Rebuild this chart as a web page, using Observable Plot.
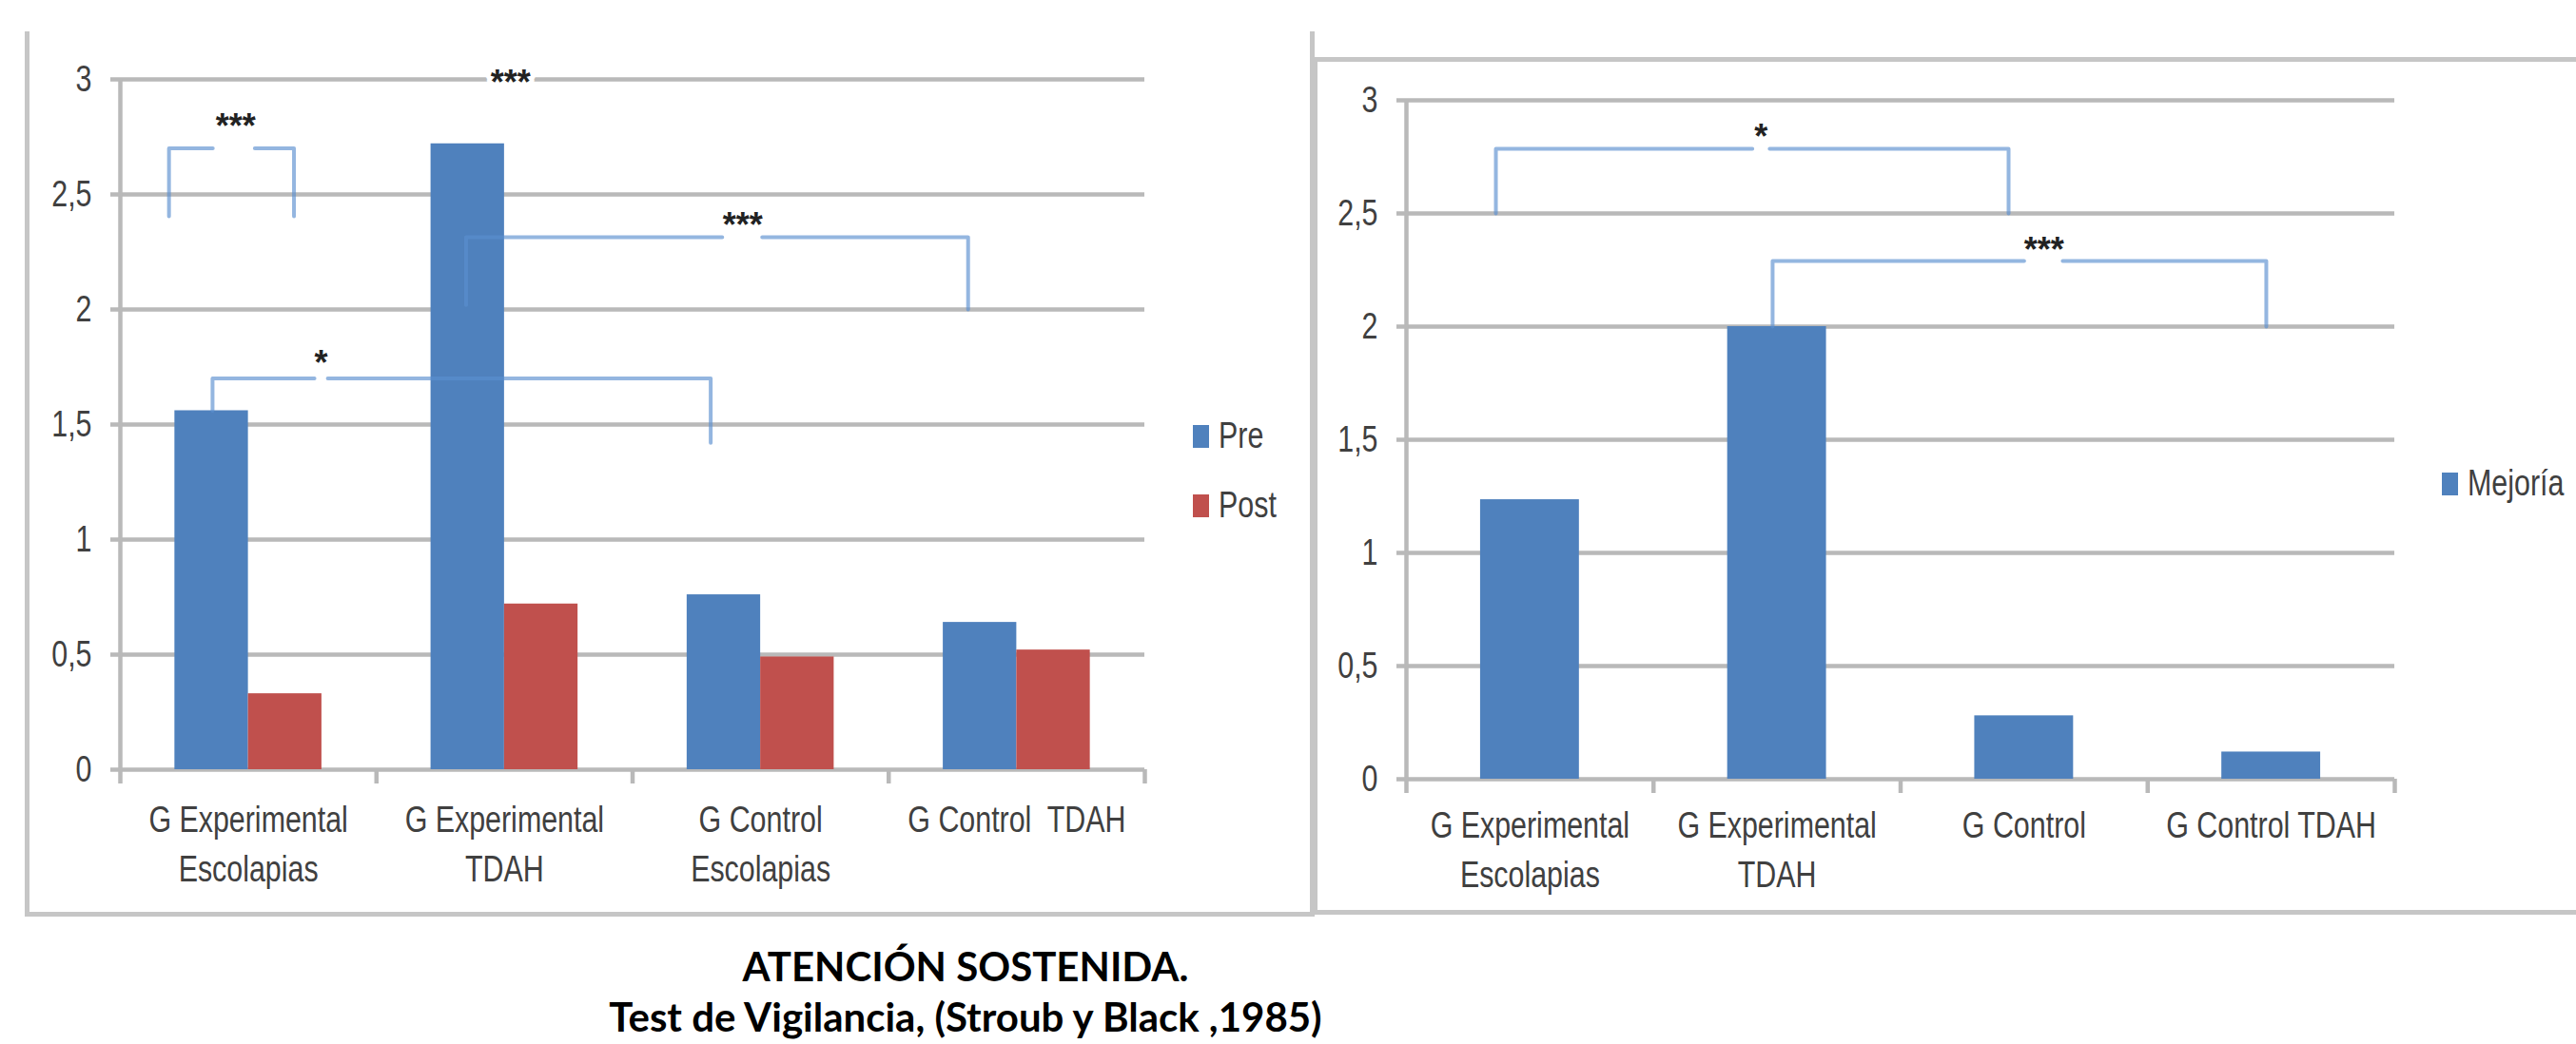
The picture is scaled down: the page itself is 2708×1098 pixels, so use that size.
<!DOCTYPE html>
<html>
<head>
<meta charset="utf-8">
<script src="https://cdn.jsdelivr.net/npm/d3@7"></script>
<script src="https://cdn.jsdelivr.net/npm/@observablehq/plot@0.6"></script>
<style>
  html, body { margin: 0; padding: 0; background: #fff; }
  body { width: 2708px; height: 1098px; position: relative; overflow: hidden; }
  .abs { position: absolute; }
  .panel { position: absolute; box-sizing: border-box; }
  .legend-item { position: absolute; display: flex; align-items: center; font-family: 'Liberation Sans', Arial, sans-serif; font-size: 38px; color: #404040; white-space: nowrap; }
  .legend-item .sw { width: 17px; height: 24px; margin-right: 10px; flex: none; }
  .legend-item .tx { display: inline-block; transform: scaleX(0.8); transform-origin: left center; }
  .caption { position: absolute; left: 0; width: 2030px; text-align: center; font-family: Lato, 'Open Sans', sans-serif; font-weight: 700; color: #000; }
  svg text { white-space: pre; }
</style>
</head>
<body>
<div id="root"></div>
<script>
// ---------- data ----------
const categoriesLeft = ["G Experimental\nEscolapias", "G Experimental\nTDAH", "G Control\nEscolapias", "G Control  TDAH"];
const categoriesRight = ["G Experimental\nEscolapias", "G Experimental\nTDAH", "G Control", "G Control TDAH"];
const seriesLeft = ["Pre", "Post"];
const seriesRight = ["Mejoría"];
const preValues = [1.56, 2.72, 0.76, 0.64];
const postValues = [0.33, 0.72, 0.49, 0.52];
const mejoriaValues = [1.235, 2.0, 0.28, 0.12];
const yTicks = [0, 0.5, 1, 1.5, 2, 2.5, 3];
const yTickLabels = ["0", "0,5", "1", "1,5", "2", "2,5", "3"];
// significance brackets (category-index units on x, values on y)
const bracketsLeft = [
  {x1: -0.31, x2: 0.178, y: 2.70, yL: 2.405, yR: 2.405, g1: -0.139, g2: 0.025, label: "***", lx: -0.05, ly: 2.81},
  {x1: 0.85, x2: 2.81, y: 2.314, yL: 2.02, yR: 2.0, g1: 1.85, g2: 2.006, label: "***", lx: 1.93, ly: 2.38},
  {x1: -0.14, x2: 1.805, y: 1.70, yL: 1.56, yR: 1.42, g1: 0.258, g2: 0.31, label: "*", lx: 0.284, ly: 1.78}
];
const extraLabelsLeft = [{lx: 1.024, ly: 3.0, label: "***"}];
const bracketsRight = [
  {x1: -0.138, x2: 1.937, y: 2.786, yL: 2.5, yR: 2.5, g1: 0.90, g2: 0.97, label: "*", lx: 0.935, ly: 2.87},
  {x1: 0.982, x2: 2.98, y: 2.29, yL: 2.0, yR: 2.0, g1: 2.0, g2: 2.156, label: "***", lx: 2.08, ly: 2.37}
];

// ---------- styles ----------
const FONT = "'Liberation Sans', Arial, sans-serif";
const BLUE = "#4F81BD", RED = "#C0504D", GRID = "#b9b9b9", BRACKET = "#5b8fd0", TXT = "#404040";
const boundaries = [-0.5, 0.5, 1.5, 2.5, 3.5];

function bracketPaths(brackets) {
  const pts = [];
  brackets.forEach((b, k) => {
    pts.push({x: b.x1, y: b.yL, z: k + "a"}, {x: b.x1, y: b.y, z: k + "a"}, {x: b.g1, y: b.y, z: k + "a"});
    pts.push({x: b.g2, y: b.y, z: k + "b"}, {x: b.x2, y: b.y, z: k + "b"}, {x: b.x2, y: b.yR, z: k + "b"});
  });
  return pts;
}

function frameMarks() {
  return [
    Plot.ruleY(yTicks, {stroke: GRID, strokeWidth: 4.5}),
    Plot.ruleX([-0.5], {stroke: GRID, strokeWidth: 4.5}),
    Plot.axisY({ticks: yTicks, tickSize: 10, tickPadding: 20, stroke: GRID, strokeWidth: 4.5,
      tickFormat: d => yTickLabels[yTicks.indexOf(d)], fill: TXT, fontSize: 38}),
    Plot.axisX({ticks: boundaries, tickSize: 15, stroke: GRID, strokeWidth: 4.5, tickFormat: () => ""}),
  ];
}

function labelMarks(categories, pad) {
  return [
    Plot.axisX({ticks: [0, 1, 2, 3], tickSize: 0, tickPadding: pad, lineAnchor: "top", lineHeight: 1.38,
      tickFormat: d => categories[d], fill: TXT, fontSize: 38})
  ];
}

function starMarks(labels, dy) {
  return Plot.text(labels, {x: "lx", y: "ly", text: "label", fontSize: 36, fontWeight: "bold", fill: "#222",
    stroke: "white", strokeWidth: 10, paintOrder: "stroke", dy});
}

// condense label text (reference uses a narrow face)
function condense(svg) {
  svg.querySelectorAll("text").forEach(t => {
    if (t.textContent.includes("*")) return;
    const tr = t.getAttribute("transform");
    if (tr && tr.includes("translate")) {
      t.setAttribute("transform", tr + " scale(0.8,1)");
    } else {
      const x = +(t.getAttribute("x") || 0), y = +(t.getAttribute("y") || 0);
      t.setAttribute("transform", `translate(${x},${y}) scale(0.8,1) translate(${-x},${-y})`);
    }
  });
}

// Left chart
const leftRows = [];
categoriesLeft.forEach((c, i) => {
  leftRows.push({i, series: seriesLeft[0], value: preValues[i]});
  leftRows.push({i, series: seriesLeft[1], value: postValues[i]});
});
const bwL = 0.287;
const leftPlot = Plot.plot({
  width: 1380, height: 961,
  marginLeft: 126, marginRight: 177, marginTop: 83, marginBottom: 152,
  x: {type: "linear", domain: [-0.5, 3.5], axis: null},
  y: {domain: [0, 3], axis: null},
  color: {domain: seriesLeft, range: [BLUE, RED]},
  style: {fontFamily: FONT, fontSize: "38px", background: "transparent", overflow: "visible"},
  marks: [
    ...frameMarks(),
    Plot.rectY(leftRows, {x1: d => d.series === seriesLeft[0] ? d.i - bwL : d.i, x2: d => d.series === seriesLeft[0] ? d.i : d.i + bwL,
      y1: 0, y2: "value", fill: "series"}),
    ...labelMarks(categoriesLeft, 28),
    Plot.line(bracketPaths(bracketsLeft), {x: "x", y: "y", z: "z", stroke: BRACKET, strokeOpacity: 0.65, strokeWidth: 4}),
    starMarks(bracketsLeft.concat(extraLabelsLeft), 4)
  ]
});
leftPlot.classList.add("abs");
leftPlot.style.left = "0px"; leftPlot.style.top = "0px";
condense(leftPlot);

// Right chart
const rightRows = categoriesRight.map((c, i) => ({i, series: seriesRight[0], value: mejoriaValues[i]}));
const bwR = 0.2;
const rightPlot = Plot.plot({
  width: 1328, height: 961,
  marginLeft: 98, marginRight: 191, marginTop: 105, marginBottom: 142,
  x: {type: "linear", domain: [-0.5, 3.5], axis: null},
  y: {domain: [0, 3], axis: null},
  color: {domain: seriesRight, range: [BLUE]},
  style: {fontFamily: FONT, fontSize: "38px", background: "transparent", overflow: "visible"},
  marks: [
    ...frameMarks(),
    Plot.rectY(rightRows, {x1: d => d.i - bwR, x2: d => d.i + bwR, y1: 0, y2: "value", fill: "series"}),
    ...labelMarks(categoriesRight, 24),
    Plot.line(bracketPaths(bracketsRight), {x: "x", y: "y", z: "z", stroke: BRACKET, strokeOpacity: 0.65, strokeWidth: 4}),
    starMarks(bracketsRight, 8)
  ]
});
rightPlot.classList.add("abs");
rightPlot.style.left = "1380px"; rightPlot.style.top = "0px";
condense(rightPlot);

const root = document.getElementById("root");
// panel frames
const p1 = document.createElement("div");
p1.className = "panel";
Object.assign(p1.style, {left: "26px", top: "33px", width: "1356px", height: "931px",
  borderLeft: "5px solid #c6c6c6", borderBottom: "5px solid #c6c6c6", borderRight: "5px solid #c6c6c6"});
const p2 = document.createElement("div");
p2.className = "panel";
Object.assign(p2.style, {left: "1380px", top: "60px", width: "1340px", height: "902px",
  borderLeft: "5px solid #c6c6c6", borderTop: "5px solid #c6c6c6", borderBottom: "5px solid #c6c6c6"});
root.append(p1, p2, leftPlot, rightPlot);

// legends
function addLegend(series, colors, left, tops) {
  series.forEach((s, k) => {
    const it = document.createElement("div");
    it.className = "legend-item";
    it.style.left = left + "px";
    it.style.top = tops[k] + "px";
    const sw = document.createElement("span");
    sw.className = "sw";
    sw.style.background = colors[k];
    const tx = document.createElement("span");
    tx.className = "tx";
    tx.textContent = s;
    it.append(sw, tx);
    root.append(it);
  });
}
addLegend(seriesLeft, [BLUE, RED], 1254, [437, 510]);
addLegend(seriesRight, [BLUE], 2567, [487]);

// caption
const c1 = document.createElement("div");
c1.className = "caption";
c1.style.top = "991px"; c1.style.fontSize = "42px";
c1.textContent = "ATENCIÓN SOSTENIDA.";
const c2 = document.createElement("div");
c2.className = "caption";
c2.style.top = "1044px"; c2.style.fontSize = "42px";
c2.textContent = "Test de Vigilancia, (Stroub y Black ,1985)";
root.append(c1, c2);
</script>
</body>
</html>
